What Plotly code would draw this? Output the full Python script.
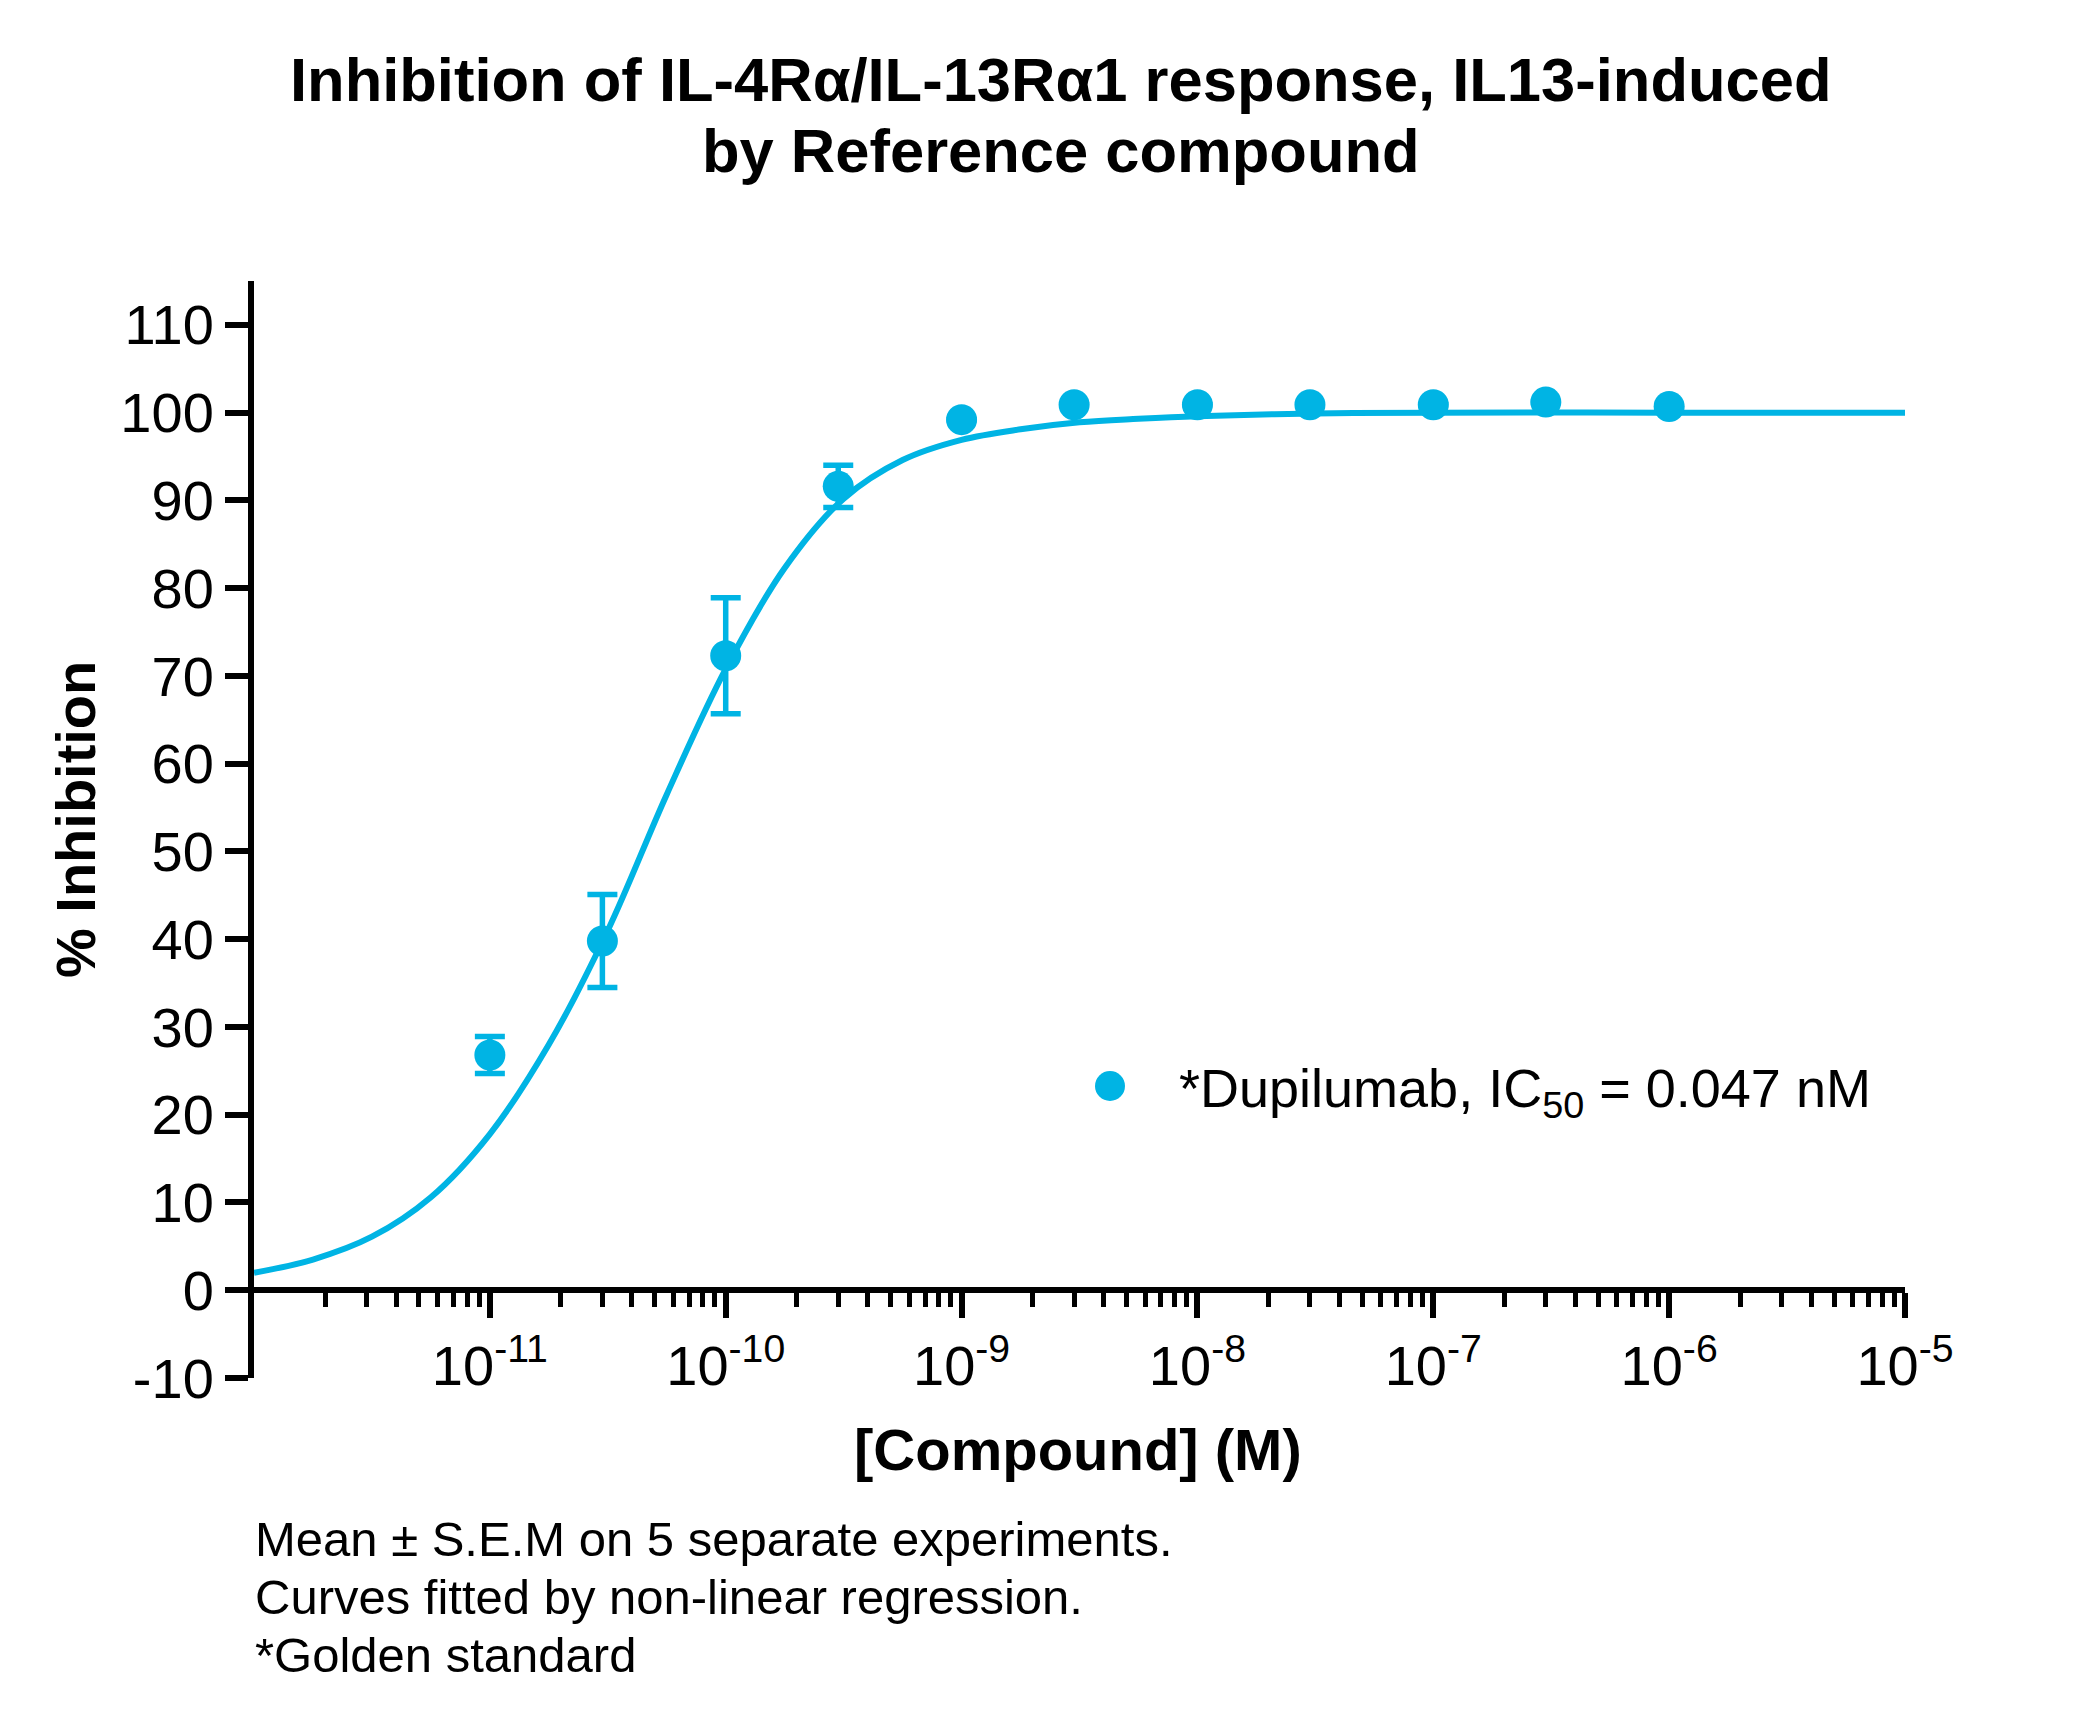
import plotly.graph_objects as go

# ---- data ----
conc = [1e-11, 3e-11, 1e-10, 3e-10, 1e-9, 3e-9, 1e-8, 3e-8, 1e-7, 3e-7, 1e-6]
inhibition = [26.8, 39.8, 72.3, 91.6, 99.2, 100.9, 100.9, 100.9, 100.9, 101.2, 100.7]
sem = [2.1, 5.3, 6.6, 2.4, None, None, None, None, None, None, None]

# fitted curve
curve_x = [1e-12, 10**-11.75, 10**-11.5, 10**-11.25, 1e-11, 10**-10.75, 10**-10.5,
           10**-10.25, 1e-10, 10**-9.75, 10**-9.5, 10**-9.25, 1e-9, 10**-8.75,
           10**-8.5, 10**-8.25, 1e-8, 10**-7.5, 1e-7, 1e-6, 1e-5]
curve_y = [2.0, 3.5, 6.1, 10.6, 17.8, 28.0, 41.0, 56.5, 70.8, 82.3, 90.2, 94.6,
           96.9, 98.1, 98.9, 99.3, 99.6, 99.9, 100.0, 100.0, 100.0]

x_tick_vals = [1e-11, 1e-10, 1e-9, 1e-8, 1e-7, 1e-6, 1e-5]
x_tick_text = ["10<sup>-11</sup>", "10<sup>-10</sup>", "10<sup>-9</sup>", "10<sup>-8</sup>",
               "10<sup>-7</sup>", "10<sup>-6</sup>", "10<sup>-5</sup>"]
y_tick_vals = [-10, 0, 10, 20, 30, 40, 50, 60, 70, 80, 90, 100, 110]
y_tick_text = ["-10", "0", "10", "20", "30", "40", "50", "60", "70", "80", "90", "100", "110"]

series_name = "*Dupilumab, IC<sub>50</sub> = 0.047 nM"
title_lines = ["Inhibition of IL-4Rα/IL-13Rα1 response, IL13-induced", "by Reference compound"]
footnotes = ["Mean ± S.E.M on 5 separate experiments.",
             "Curves fitted by non-linear regression.",
             "*Golden standard"]

# minor tick positions (axis decoration)
minor_vals = [m * 10.0**e for e in range(-12, -5) for m in range(2, 10)]

COLOR = "rgb(0,180,228)"
FONT = "Liberation Sans, Arial, sans-serif"

W, H = 2084, 1725
L, R, T, B = 254, 179, 281, 347
pw, ph = W - L - R, H - T - B

def px_x(x):
    return (x - L) / pw

def px_y(y):
    return (H - B - y) / ph

fig = go.Figure()
fig.add_trace(go.Scatter(x=curve_x, y=curve_y, mode="lines",
                         line=dict(color=COLOR, width=6, shape="spline", smoothing=1.0),
                         showlegend=False, hoverinfo="skip"))
fig.add_trace(go.Scatter(x=conc, y=inhibition, mode="markers", name=series_name,
                         marker=dict(color=COLOR, size=31, symbol="circle"),
                         error_y=dict(type="data", array=sem, visible=True,
                                      color=COLOR, thickness=5.5, width=15),
                         showlegend=True))

ymin, ymax = -10, 115
item_w = 130
legend_cx, legend_cy, legend_r = 1110, 1086, 15
fig.update_layout(
    width=W, height=H,
    margin=dict(l=L, r=R, t=T, b=B, pad=0),
    paper_bgcolor="white", plot_bgcolor="white",
    font=dict(family=FONT, color="black", size=54),
    showlegend=True,
    legend=dict(x=px_x(1179 - item_w - 10), y=px_y(legend_cy), xanchor="left", yanchor="middle",
                font=dict(family=FONT, size=54, color="black"),
                bgcolor="rgba(0,0,0,0)", borderwidth=0, itemwidth=item_w),
    xaxis=dict(type="log", range=[-12, -5], anchor="free",
               position=(0 - ymin) / (ymax - ymin),
               showline=True, linecolor="black", linewidth=6,
               showgrid=False, zeroline=False,
               tickmode="array", tickvals=x_tick_vals, ticktext=x_tick_text,
               ticks="outside", ticklen=25, tickwidth=5.5, tickcolor="black",
               ticklabelstandoff=0,
               tickfont=dict(family=FONT, size=56, color="black"),
               minor=dict(tickmode="array", tickvals=minor_vals, ticks="outside",
                          ticklen=14, tickwidth=5, tickcolor="black", showgrid=False)),
    yaxis=dict(range=[ymin, ymax], showline=True, linecolor="black", linewidth=6,
               showgrid=False, zeroline=False,
               tickmode="array", tickvals=y_tick_vals, ticktext=y_tick_text,
               ticks="outside", ticklen=23, tickwidth=5.5, tickcolor="black",
               ticklabelstandoff=0,
               tickfont=dict(family=FONT, size=56, color="black")),
)

# enlarged legend swatch (plotly caps legend marker size)
fig.add_shape(type="circle", xref="paper", yref="paper", layer="above",
              x0=px_x(legend_cx - legend_r), x1=px_x(legend_cx + legend_r),
              y0=px_y(legend_cy + legend_r), y1=px_y(legend_cy - legend_r),
              fillcolor=COLOR, line=dict(width=0))

annotations = []
# title lines
annotations.append(dict(text="<b>" + title_lines[0] + "</b>", x=px_x(1061), y=px_y(80),
                        xref="paper", yref="paper", xanchor="center", yanchor="middle",
                        showarrow=False, font=dict(family=FONT, size=61.5, color="black")))
annotations.append(dict(text="<b>" + title_lines[1] + "</b>", x=px_x(1061), y=px_y(150),
                        xref="paper", yref="paper", xanchor="center", yanchor="middle",
                        showarrow=False, font=dict(family=FONT, size=61.5, color="black")))
# axis titles
annotations.append(dict(text="<b>% Inhibition</b>", x=px_x(75), y=px_y(820),
                        xref="paper", yref="paper", xanchor="center", yanchor="middle",
                        textangle=-90, showarrow=False,
                        font=dict(family=FONT, size=56, color="black")))
annotations.append(dict(text="<b>[Compound] (M)</b>", x=px_x(1078), y=px_y(1449),
                        xref="paper", yref="paper", xanchor="center", yanchor="middle",
                        showarrow=False, font=dict(family=FONT, size=58, color="black")))
# footnotes
for i, line in enumerate(footnotes):
    annotations.append(dict(text=line, x=px_x(253), y=px_y(1539 + 58 * i),
                            xref="paper", yref="paper", xanchor="left", yanchor="middle",
                            showarrow=False, font=dict(family=FONT, size=49, color="black")))
fig.update_layout(annotations=annotations)

fig.write_html("out.html")
